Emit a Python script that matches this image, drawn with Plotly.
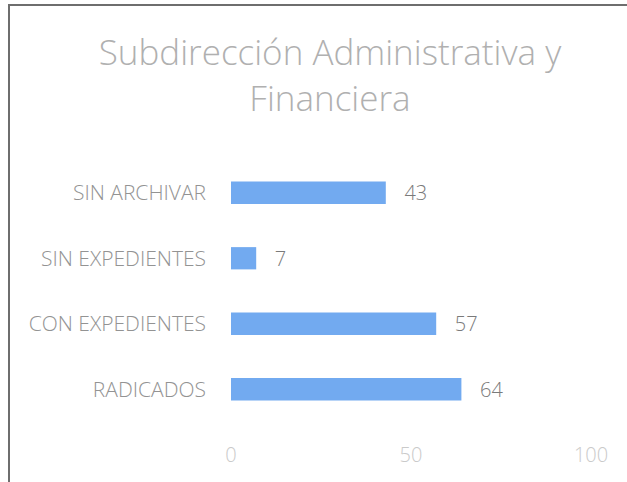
import plotly.graph_objects as go

categories = ["RADICADOS", "CON EXPEDIENTES", "SIN EXPEDIENTES", "SIN ARCHIVAR"]
values = [64, 57, 7, 43]
x_ticks = [0, 50, 100]

W, H = 627, 482
L, R, T, B = 231, 36, 160, 60
pw, ph = W - L - R, H - T - B

def px_x(p):
    return (p - L) / pw

def px_y(p):
    return (H - B - p) / ph

fig = go.Figure(go.Bar(
    y=categories, x=values, orientation="h",
    marker=dict(color="#72aaf0", line=dict(width=0)),
    width=0.34,
    text=values, texttemplate="   %{x}", textposition="outside",
    constraintext="none",
    textfont=dict(family="Open Sans", size=20, color="#7a7a7a", weight=300),
    cliponaxis=False,
))

fig.update_layout(
    width=W, height=H,
    margin=dict(l=L, r=R, t=T, b=B),
    paper_bgcolor="white", plot_bgcolor="white",
    showlegend=False,
    title=dict(
        text="Subdirección Administrativa y<br>Financiera",
        x=px_x(330), xref="paper", xanchor="center",
        y=1 - 65 / H, yref="container", yanchor="middle",
        font=dict(family="Open Sans", size=35, color="#b0b0b0", weight=300),
    ),
    xaxis=dict(
        range=[0, 100], tickvals=x_ticks, showgrid=False, zeroline=False,
        showline=False, ticks="", ticklabelstandoff=19,
        tickfont=dict(family="Open Sans", size=20, color="#cacaca", weight=300),
    ),
    yaxis=dict(
        categoryorder="array", categoryarray=categories,
        showgrid=False, zeroline=False, showline=False, ticks="",
        ticklabelstandoff=24,
        tickfont=dict(family="Open Sans", size=21, color="#939393", weight=300),
    ),
    shapes=[
        dict(type="line", xref="paper", yref="paper",
             x0=px_x(8), x1=px_x(W + 5), y0=px_y(5), y1=px_y(5),
             line=dict(color="#6e6e6e", width=2)),
        dict(type="line", xref="paper", yref="paper",
             x0=px_x(9), x1=px_x(9), y0=px_y(5), y1=px_y(H + 5),
             line=dict(color="#6e6e6e", width=2)),
    ],
)

fig.write_html(
    "out.html",
    config={"displayModeBar": False},
    post_script="document.body.style.margin='0';document.body.style.overflow='hidden';",
)
